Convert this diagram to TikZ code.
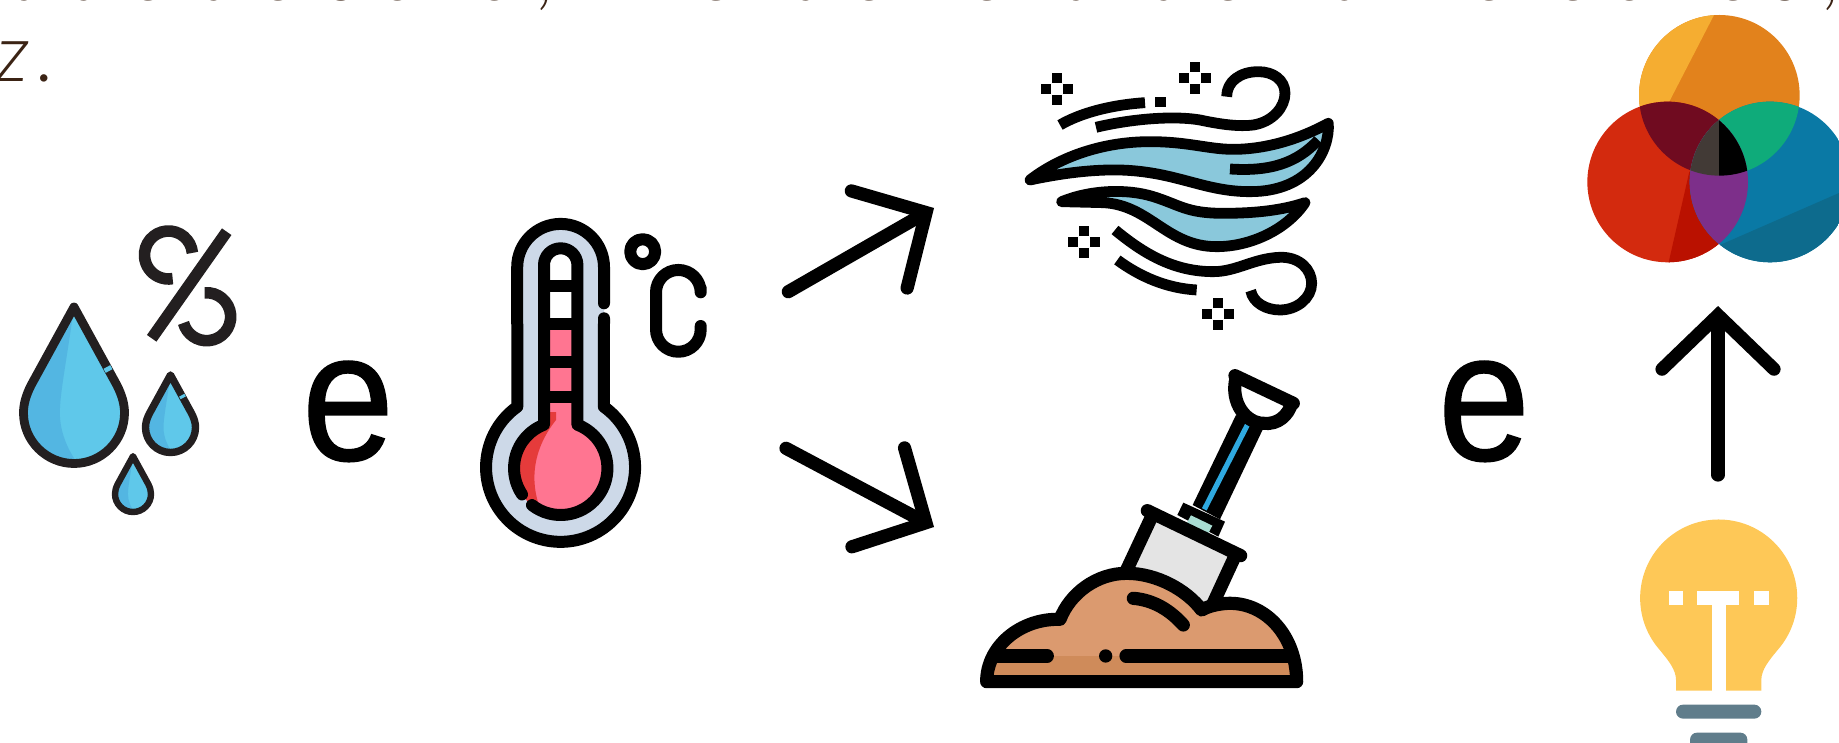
\documentclass[tikz,border=0pt]{standalone}
\usepackage{fontspec}
\setmainfont{Liberation Sans}
\newfontfamily\notefont[LetterSpace=24.5,ItalicFont={Lato Light Italic}]{Lato}
\newfontfamily\andfont[FakeBold=0.8]{Liberation Sans}
\usepackage{xcolor}
\usetikzlibrary{arrows.meta}

\definecolor{notebrown}{HTML}{3B2314}
\definecolor{dropblue}{HTML}{5FC8EA}
\definecolor{dropshade}{HTML}{53B6E2}
\definecolor{dropline}{HTML}{231F20}
\definecolor{glassgrey}{HTML}{CDD9E8}
\definecolor{mercurypink}{HTML}{FF7591}
\definecolor{mercuryred}{HTML}{E53B3B}
\definecolor{windblue}{HTML}{8AC8DB}
\definecolor{soilbrown}{HTML}{DB9A6F}
\definecolor{soildark}{HTML}{CF8B5A}
\definecolor{bladegrey}{HTML}{E4E4E4}
\definecolor{collarmint}{HTML}{A9DDD3}
\definecolor{handleblue}{HTML}{2FA9E0}
\definecolor{lampyellow}{HTML}{FEC857}
\definecolor{lampgrey}{HTML}{607D8B}
\definecolor{discorange}{HTML}{E2821C}
\definecolor{discamber}{HTML}{F5AD31}
\definecolor{discred}{HTML}{D32A0E}
\definecolor{discdeepred}{HTML}{BA1100}
\definecolor{discblue}{HTML}{0A79A5}
\definecolor{discdeepblue}{HTML}{0D6B8D}
\definecolor{discwine}{HTML}{700B20}
\definecolor{discgreen}{HTML}{0FAB7A}
\definecolor{discpurple}{HTML}{7D2F8A}
\definecolor{discdark}{HTML}{423A36}

\tikzset{
    noteword/.style={anchor=base west, inner sep=0pt, text=notebrown, font=\notefont\itshape\fontsize{40}{40}\selectfont},
    andword/.style={anchor=base, inner sep=0pt, xscale=0.9, transform shape, font=\andfont\fontsize{92}{92}\selectfont},
    flowarrow/.style={line width=6.6pt, line cap=round, -{Straight Barb[length=27pt,width=56pt,line width=6.6pt,line cap=round]}},
    iconline/.style={black, line width=6pt, line join=round},
    windline/.style={black, line width=5.4pt, line join=round},
    soilline/.style={black, line width=6.6pt, line join=round},
    gapline/.style={dropblue, line width=4.5pt}
}

\newcommand{\dropshape}{(0,-2.1) -- (-0.85,-0.55) .. controls (-0.95,-0.35) and (-1,-0.18) .. (-1,0) .. controls (-1,0.55) and (-0.55,1) .. (0,1) .. controls (0.55,1) and (1,0.55) .. (1,0) .. controls (1,-0.18) and (0.95,-0.35) .. (0.85,-0.55) -- cycle}
\newcommand{\dropicon}[4]{
    \begin{scope}[shift={(#1,#2)},scale=#3]
        \fill[dropblue] \dropshape;
        \begin{scope}
            \clip \dropshape;
            \fill[dropshade] (0,-2.1) .. controls (-0.15,-1) and (-0.28,-0.4) .. (-0.28,0) .. controls (-0.28,0.4) and (-0.1,0.8) .. (0.15,1.1) -- (-1.1,1.1) -- (-1.1,-2.1) -- cycle;
        \end{scope}
        \draw[dropline, line width=#4, line join=round] \dropshape;
    \end{scope}
}
\newcommand{\topdisc}{(448,286) circle (241)}
\newcommand{\leftdisc}{(293,546) circle (241)}
\newcommand{\rightdisc}{(600,546) circle (241)}

\begin{document}
\begin{tikzpicture}[x=0.5pt, y=-0.5pt]
    \useasboundingbox (0,0) rectangle (1839,743);
    \clip (0,0) rectangle (1839,743);

    \node[noteword] (noteline) at (11,1) {ade\kern-4.4pt{} de\kern-4.4pt{} solo,\kern3.5pt{} incidência\kern3.5pt{} de\kern3.5pt{} luz\kern3.5pt{} e\kern3.5pt{} cores,};
    \node[noteword] (notetail) at (-4,82) {z\kern4pt.};

    % humidity
    \dropicon{74}{413}{50.5}{4.4pt}
    \draw[gapline, line width=3.8pt] (106.9,367) -- (109.1,371);
    \dropicon{170.5}{427.5}{25}{3.7pt}
    \draw[gapline, line width=3pt] (181.8,395.2) -- (183.2,397.8);
    \dropicon{133}{494}{18}{3.2pt}
    \draw[dropline, line width=5.8pt] (226.7,231.7) -- (151.7,338.3);
    \draw[dropline, line width=5.8pt] (192.4,252.9) arc[start angle=-5,end angle=-280,radius=24];
    \draw[dropline, line width=5.8pt] (204.6,292.8) arc[start angle=-95,end angle=165,radius=24];

    \node[andword] (andleft) at (348,460) {e};

    % thermometer
    \fill[glassgrey] (517.3,406.7) -- (517.3,267.3) arc[start angle=180,end angle=360,radius=43.4] -- (604,406.7) arc[start angle=-54.5,end angle=234.5,radius=74.5] -- cycle;
    \begin{scope}
        \clip (544,424.7) -- (544,265) arc[start angle=180,end angle=360,radius=16.7] -- (577.4,424.7) arc[start angle=-69,end angle=249,radius=46.7] -- cycle;
        \fill[mercurypink] (500,230) rectangle (620,530);
        \fill[white] (500,230) rectangle (620,326.7);
        \fill[mercuryred] (556,412) -- (556,420) .. controls (536,445) and (525,480) .. (545,520) -- (500,530) -- (500,412) -- cycle;
    \end{scope}
    \draw[iconline, line cap=round] (604,303.3) -- (604,267.3) arc[start angle=0,end angle=-180,radius=43.4] -- (517.3,406.7) arc[start angle=234.5,end angle=-54.5,radius=74.5] -- (604,318.3);
    \draw[iconline, line cap=round] (531.95,505.1) arc[start angle=128,end angle=-69,radius=46.7] -- (577.4,265) arc[start angle=0,end angle=-180,radius=16.7] -- (544,424.7) arc[start angle=249,end angle=146,radius=46.7];
    \foreach \tickrow in {286,324,361.7,396.7}
        \draw[iconline] (544,\tickrow) -- (577.4,\tickrow);
    \draw[iconline] (642.7,251.7) circle (12.5);
    \draw[iconline, line cap=round] (700.7,288.3) -- (700.7,292.3) arc[start angle=0,end angle=-180,radius=22.35] -- (656,329.4) arc[start angle=180,end angle=0,radius=22.35] -- (700.7,326);

    % arrows
    \coordinate (upfrom) at (788.3,291.7);
    \coordinate (upto) at (934,208);
    \coordinate (downfrom) at (786,448.3);
    \coordinate (downto) at (934,527);
    \coordinate (lampfrom) at (1718,475);
    \coordinate (lampto) at (1718,306);
    \draw[flowarrow] (upfrom) -- (upto);
    \draw[flowarrow] (downfrom) -- (downto);
    \draw[flowarrow] (lampfrom) -- (lampto);

    % wind
    \begin{scope}[shift={(1010,50)},scale=0.3333]
        \fill[windblue] (60,390) .. controls (150,320) and (280,275) .. (420,275) .. controls (540,275) and (600,300) .. (680,298) .. controls (800,295) and (900,250) .. (955,220) .. controls (960,300) and (900,425) .. (720,425) .. controls (580,425) and (500,365) .. (330,360) .. controls (230,358) and (130,375) .. (60,390) -- cycle;
        \draw[windline] (60,390) .. controls (150,320) and (280,275) .. (420,275) .. controls (540,275) and (600,300) .. (680,298) .. controls (800,295) and (900,250) .. (955,220) .. controls (960,300) and (900,425) .. (720,425) .. controls (580,425) and (500,365) .. (330,360) .. controls (230,358) and (130,375) .. (60,390) -- cycle;
        \draw[windline] (660,357) .. controls (780,365) and (860,340) .. (925,270);
        \fill[windblue] (155,455) .. controls (240,420) and (350,415) .. (430,440) .. controls (510,465) and (530,490) .. (640,490) .. controls (740,490) and (820,480) .. (885,458) .. controls (830,540) and (720,590) .. (620,590) .. controls (470,590) and (420,465) .. (280,458) -- cycle;
        \draw[windline] (155,455) .. controls (240,420) and (350,415) .. (430,440) .. controls (510,465) and (530,490) .. (640,490) .. controls (740,490) and (820,480) .. (885,458) .. controls (830,540) and (720,590) .. (620,590) .. controls (470,590) and (420,465) .. (280,458) -- cycle;
        \draw[windline] (150,225) .. controls (210,190) and (300,165) .. (405,158);
        \fill[black] (436,140) rectangle (468,172);
        \draw[windline] (258,232) .. controls (350,210) and (480,195) .. (570,210) .. controls (640,225) and (690,230) .. (730,225) .. controls (790,215) and (825,170) .. (825,130) .. controls (825,90) and (790,65) .. (745,65) .. controls (690,65) and (650,95) .. (650,140);
        \draw[windline] (315,540) .. controls (400,610) and (490,665) .. (610,665) .. controls (680,665) and (730,625) .. (810,622) .. controls (870,620) and (905,660) .. (905,700) .. controls (905,745) and (860,780) .. (810,780) .. controls (770,780) and (730,760) .. (722,722);
        \draw[windline] (322,630) .. controls (390,680) and (470,715) .. (560,720);
        \foreach \sx/\sy in {140/118, 555/85, 222/575, 625/792} {
            \fill[black] (\sx-15,\sy-48) rectangle (\sx+15,\sy-18);
            \fill[black] (\sx-15,\sy+18) rectangle (\sx+15,\sy+48);
            \fill[black] (\sx-48,\sy-15) rectangle (\sx-18,\sy+15);
            \fill[black] (\sx+18,\sy-15) rectangle (\sx+48,\sy+15);
        }
    \end{scope}

    % shovel and soil
    \begin{scope}[shift={(970,360)},scale=0.3333]
        \fill[black] (668,435) -- (798,165) -- (880,205) -- (750,478) -- cycle;
        \draw[handleblue, line width=2.6pt] (703,448) -- (832,195);
        \fill[white] (798,55) .. controls (780,130) and (830,190) .. (880,190) .. controls (925,195) and (955,165) .. (965,130) -- cycle;
        \draw[soilline] (798,55) .. controls (780,130) and (830,190) .. (880,190) .. controls (925,195) and (955,165) .. (965,130);
        \draw[soilline, line cap=round] (795,47) -- (970,130);
        \fill[black] (622,465) -- (640,428) -- (765,485) -- (745,530) -- cycle;
        \fill[collarmint] (650,490) -- (663,466) -- (727,497) -- (714,522) -- cycle;
        \fill[bladegrey] (545,470) -- (800,590) -- (725,745) -- (470,625) -- cycle;
        \draw[soilline] (545,470) -- (470,630);
        \draw[soilline] (792,595) -- (725,740);
        \draw[soilline, line cap=round] (532,452) -- (812,587);
        \fill[soilbrown] (50,965) .. controls (50,860) and (150,775) .. (270,778) .. controls (300,700) and (380,640) .. (470,640) .. controls (560,640) and (650,690) .. (695,750) .. controls (720,735) and (760,730) .. (780,730) .. controls (890,730) and (980,830) .. (980,965) -- cycle;
        \fill[soildark] (55,888) rectangle (975,950);
        \draw[soilline] (50,965) .. controls (50,860) and (150,775) .. (270,778) .. controls (300,700) and (380,640) .. (470,640) .. controls (560,640) and (650,690) .. (695,750) .. controls (720,735) and (760,730) .. (780,730) .. controls (890,730) and (980,830) .. (980,965) -- cycle;
        \draw[soilline, line cap=round] (70,888) -- (232,888);
        \fill[black] (407,888) circle (20);
        \draw[soilline, line cap=round] (468,888) -- (965,888);
        \draw[soilline, line cap=round] (490,715) .. controls (550,720) and (600,750) .. (640,795);
    \end{scope}

    \node[andword] (andright) at (1484,460) {e};

    % colour discs
    \begin{scope}[shift={(1570,0)},scale=0.3333]
        \begin{scope}
            \clip \topdisc;
            \fill[discorange] (150,0) rectangle (750,600);
            \fill[discamber] (445,20) -- (290,320) -- (150,320) -- (150,20) -- cycle;
        \end{scope}
        \begin{scope}
            \clip \leftdisc;
            \fill[discred] (0,250) rectangle (600,800);
            \fill[discdeepred] (358,515) -- (293,800) -- (600,800) -- (600,515) -- cycle;
        \end{scope}
        \begin{scope}
            \clip \rightdisc;
            \fill[discblue] (340,250) rectangle (860,800);
            \fill[discdeepblue] (450,735) -- (860,556) -- (860,800) -- (450,800) -- cycle;
        \end{scope}
        \begin{scope}
            \clip \topdisc;
            \fill[discwine] \leftdisc;
            \fill[discgreen] \rightdisc;
        \end{scope}
        \begin{scope}
            \clip \leftdisc;
            \fill[discpurple] \rightdisc;
            \clip \rightdisc;
            \clip \topdisc;
            \fill[discdark] (300,300) rectangle (448,600);
            \fill[black] (448,300) rectangle (600,600);
        \end{scope}
    \end{scope}

    % lamp
    \begin{scope}[shift={(1600,500)},scale=0.3333]
        \fill[lampyellow] (228,572) -- (228,540) .. controls (228,510) and (207,483) .. (175,445) arc[start angle=140.2,end angle=399.8,radius=235.7] .. controls (505,483) and (484,510) .. (484,540) -- (484,572) -- cycle;
        \fill[white] (207,272) rectangle (250,316);
        \fill[white] (292,272) rectangle (418,316);
        \fill[white] (335,316) rectangle (377,572);
        \fill[white] (462,272) rectangle (506,316);
        \fill[lampgrey, rounded corners=3.5pt] (228,614) rectangle (484,656);
        \fill[lampgrey, rounded corners=3.5pt] (270,698) rectangle (442,770);
    \end{scope}
\end{tikzpicture}
\end{document}
